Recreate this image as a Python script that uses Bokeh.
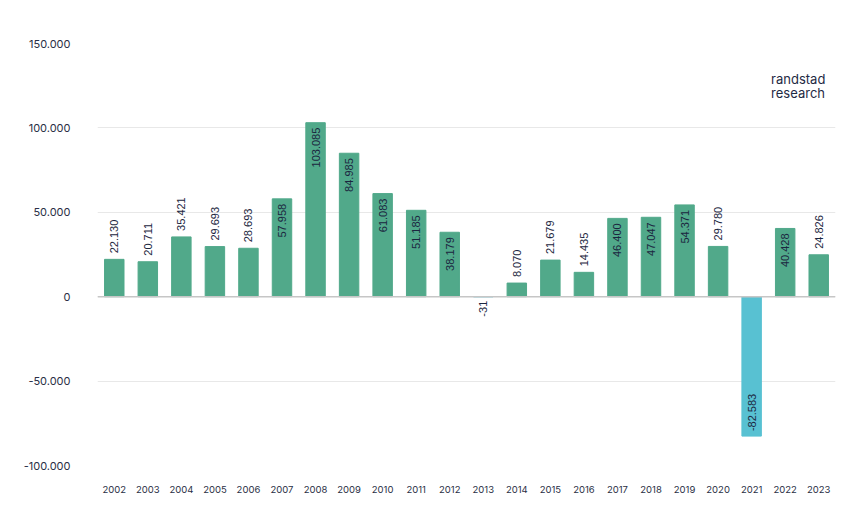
from bokeh.plotting import figure
from bokeh.models import ColumnDataSource, FixedTicker, Span, Label, Range1d, FactorRange
from bokeh.core.properties import value
from bokeh.embed import file_html
from bokeh.resources import INLINE
import math

years = [str(y) for y in range(2002, 2024)]
values = [22130, 20711, 35421, 29693, 28693, 57958, 103085, 84985, 61083, 51185,
          38179, -31, 8070, 21679, 14435, 46400, 47047, 54371, 29780, -82583,
          40428, 24826]
y_ticks = [-100000, -50000, 0, 50000, 100000, 150000]
y_tick_labels = ["-100.000", "-50.000", "0", "50.000", "100.000", "150.000"]

GREEN = "#51a98a"
CYAN = "#58c1d2"
TEXT = "#1b2640"

def fmt(v):
    return f"{v:,}".replace(",", ".")

inside = [abs(v) > 37000 for v in values]
aligns, offsets = [], []
for v, ins in zip(values, inside):
    if v >= 0:
        aligns.append("right" if ins else "left")
        offsets.append(5 if ins else -6)
    else:
        aligns.append("left" if ins else "right")
        offsets.append(-5 if ins else 4)

source = ColumnDataSource(dict(
    year=years, val=values,
    color=[GREEN if v >= 0 else CYAN for v in values],
    label=[fmt(v) for v in values],
    align=aligns, yoff=offsets,
))

p = figure(x_range=FactorRange(*years), y_range=Range1d(-100000, 150000),
           width=841, height=500, output_backend="svg", toolbar_location=None,
           min_border_left=97, min_border_right=6, min_border_top=43, min_border_bottom=35)

p.vbar(x="year", top="val", bottom=0, width=0.58, color="color", source=source)

p.text(x="year", y="val", text="label", angle=math.pi / 2,
       text_align="align", text_baseline="middle", y_offset="yoff",
       text_font=value("Liberation Sans"), text_font_size="11px",
       text_color=TEXT, source=source)

p.add_layout(Span(location=0, dimension="width", line_color="#c6c6c6", line_width=1.5))

p.outline_line_color = None
p.xgrid.grid_line_color = None
p.ygrid.grid_line_color = "#e8e8e8"
p.ygrid.grid_line_width = 1

p.yaxis.ticker = FixedTicker(ticks=y_ticks)
p.yaxis.major_label_overrides = {t: l for t, l in zip(y_ticks, y_tick_labels)}
p.ygrid.ticker = FixedTicker(ticks=y_ticks)

for ax in (p.xaxis, p.yaxis):
    ax.axis_line_color = None
    ax.major_tick_line_color = None
    ax.minor_tick_line_color = None
    ax.major_label_text_font = "Inter"
    ax.major_label_text_color = "#2a2f45"

p.yaxis.major_label_text_font_size = "11px"
p.yaxis.major_label_standoff = 21
p.xaxis.major_label_text_font_size = "9.5px"
p.xaxis.major_label_standoff = 14

p.add_layout(Label(x=20.08, y=128900, text="randstad", text_font="Inter",
                   text_font_size="13px", text_color="#1f2a44", text_baseline="alphabetic"))
p.add_layout(Label(x=20.08, y=120600, text="research", text_font="Inter",
                   text_font_size="13px", text_color="#1f2a44", text_baseline="alphabetic"))

open("out.html", "w").write(file_html(p, INLINE))
